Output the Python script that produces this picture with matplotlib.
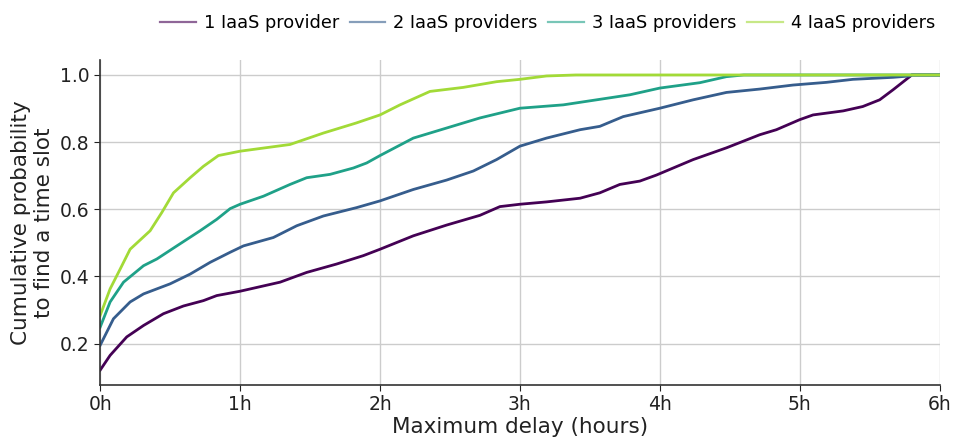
import matplotlib
matplotlib.use("Agg")
import matplotlib.pyplot as plt
import numpy as np

# Empirical CDF of the delay until a free time slot is found (delay in hours)
delay_1 = [0.0, 0.071, 0.19, 0.31, 0.452, 0.595, 0.738, 0.833, 1.0, 1.286, 1.476, 1.69, 1.881,
           2.0, 2.238, 2.476, 2.714, 2.857, 3.0, 3.19, 3.43, 3.571, 3.714, 3.857, 3.976,
           4.238, 4.476, 4.714, 4.833, 5.0, 5.095, 5.31, 5.45, 5.571, 5.667, 5.786, 5.8, 6.0]
prob_1 = [0.121, 0.165, 0.220, 0.254, 0.289, 0.312, 0.328, 0.343, 0.356, 0.383, 0.412, 0.437, 0.462,
          0.481, 0.521, 0.553, 0.582, 0.608, 0.615, 0.622, 0.633, 0.649, 0.674, 0.684, 0.702,
          0.748, 0.783, 0.822, 0.837, 0.867, 0.881, 0.893, 0.906, 0.926, 0.956, 0.995, 1.0, 1.0]

delay_2 = [0.0, 0.03, 0.095, 0.214, 0.31, 0.5, 0.643, 0.786, 0.929, 1.024, 1.238, 1.405, 1.595, 1.833,
           2.0, 2.238, 2.476, 2.667, 2.833, 3.0, 3.19, 3.43, 3.571, 3.738, 4.0, 4.238, 4.476,
           4.714, 4.952, 5.19, 5.38, 5.667, 5.786, 5.8, 6.0]
prob_2 = [0.195, 0.22, 0.274, 0.324, 0.348, 0.378, 0.407, 0.442, 0.472, 0.491, 0.516, 0.551, 0.580, 0.605,
          0.625, 0.659, 0.687, 0.714, 0.748, 0.788, 0.812, 0.837, 0.847, 0.876, 0.901, 0.926, 0.948,
          0.958, 0.970, 0.978, 0.987, 0.993, 0.997, 1.0, 1.0]

delay_3 = [0.0, 0.071, 0.167, 0.31, 0.405, 0.548, 0.714, 0.833, 0.929, 1.0, 1.167, 1.357, 1.476,
           1.643, 1.81, 1.905, 2.0, 2.238, 2.476, 2.714, 3.0, 3.31, 3.548, 3.786, 4.0, 4.286,
           4.476, 4.6, 6.0]
prob_3 = [0.249, 0.324, 0.383, 0.432, 0.452, 0.491, 0.536, 0.570, 0.602, 0.615, 0.639, 0.674, 0.694,
          0.704, 0.723, 0.738, 0.760, 0.812, 0.842, 0.872, 0.901, 0.911, 0.926, 0.941, 0.961, 0.977,
          0.995, 1.0, 1.0]

delay_4 = [0.0, 0.071, 0.143, 0.214, 0.357, 0.44, 0.524, 0.643, 0.738, 0.845, 1.0, 1.357, 1.595,
           1.83, 2.0, 2.143, 2.357, 2.595, 2.833, 3.0, 3.19, 3.4, 6.0]
prob_4 = [0.284, 0.363, 0.422, 0.481, 0.536, 0.590, 0.649, 0.694, 0.728, 0.760, 0.773, 0.793, 0.827,
          0.857, 0.881, 0.911, 0.951, 0.963, 0.980, 0.987, 0.997, 1.0, 1.0]

labels = ["1 IaaS provider", "2 IaaS providers", "3 IaaS providers", "4 IaaS providers"]
hour_ticks = [0, 1, 2, 3, 4, 5, 6]
hour_labels = ["0h", "1h", "2h", "3h", "4h", "5h", "6h"]

series = [(delay_1, prob_1), (delay_2, prob_2), (delay_3, prob_3), (delay_4, prob_4)]
colors = [plt.get_cmap("viridis")(v) for v in (0.0, 0.29, 0.57, 0.86)]

fig = plt.figure(figsize=(9.54, 4.46), dpi=100)
ax = fig.add_axes([0.105, 0.137, 0.88, 0.728])

for (x, y), c, lab in zip(series, colors, labels):
    ax.plot(x, y, color=c, lw=2.0, label=lab)

ax.set_xlim(0, 6)
ax.set_xticks(hour_ticks)
ax.set_xticklabels(hour_labels)
ax.set_yticks([0.2, 0.4, 0.6, 0.8, 1.0])
ax.grid(True, color="#cccccc", lw=1.0)
ax.set_axisbelow(True)
for side in ("top", "right"):
    ax.spines[side].set_visible(False)
for side in ("left", "bottom"):
    ax.spines[side].set_color("#333333")
    ax.spines[side].set_linewidth(1.2)
ax.tick_params(labelsize=13.5, colors="#222222", length=4)

ax.set_xlabel("Maximum delay (hours)", fontsize=15.5, color="#222222", labelpad=2)
ax.set_ylabel("Cumulative probability\nto find a time slot", fontsize=15.5, color="#222222")

leg = fig.legend(loc="upper center", bbox_to_anchor=(0.574, 1.005), ncol=4, frameon=False,
                 fontsize=12.8, handlelength=2.0, columnspacing=0.6, handletextpad=0.45)
for h in leg.get_lines():
    h.set_alpha(0.6)
    h.set_linewidth(1.6)

fig.savefig("out.png", dpi=100)
